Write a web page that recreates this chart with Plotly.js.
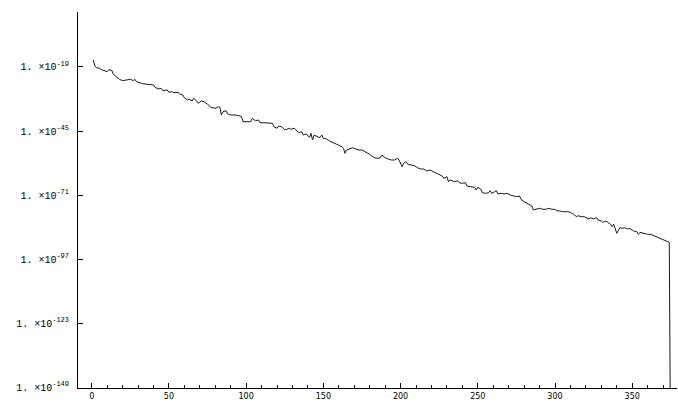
<!DOCTYPE html>
<html>
<head>
<meta charset="utf-8">
<script src="https://cdn.plot.ly/plotly-3.0.1.min.js"></script>
<style>html,body{margin:0;padding:0;background:#fff}#chart{width:678px;height:407px}</style>
</head>
<body>
<div id="chart"></div>
<script>
// iteration index
const iterX = [1,2,3,5,7,9,10,11,13,14,16,18,20,23,25,27,28,29,31,33,36,38,40,41,43,45,46,49,50,52,53,56,57,59,60,62,63,65,66,68,69,71,73,
74,75,77,80,82,83,84,85,87,88,90,93,96,97,98,101,103,104,106,108,109,111,114,117,118,120,121,123,125,126,128,129,131,132,134,136,137,139,141,142,143,144,145,147,148,149,
150,152,154,156,158,160,162,163,164,165,167,169,171,173,175,178,180,181,183,185,187,188,190,192,194,196,198,199,201,202,203,205,207,209,211,213,215,217,219,221,223,225,
227,228,230,231,232,235,237,238,240,242,243,245,248,249,250,252,253,255,257,258,259,261,262,263,265,267,269,271,273,275,277,278,280,281,283,285,286,288,290,292,294,296,298,300,301,
303,305,308,310,312,314,315,317,319,320,322,323,325,327,328,330,331,333,335,336,337,338,340,341,342,344,345,347,348,350,351,353,354,355,357,360,362,364,366,368,370,372,374,375,376];
// log10 of the residual at each iteration
const log10Residual = [-16.16,-18.47,-19.28,-19.53,-20.22,-20.63,-20.91,-20.10,-20.34,-21.97,-22.94,-24.00,-24.57,-24.40,-24.00,-24.57,-24.00,-24.97,-25.38,-25.78,-26.03,-26.03,-26.31,-27.25,-27.94,-27.65,-28.63,-28.34,-29.28,-29.03,-29.44,-29.28,-29.97,-30.38,-31.47,-32.41,-32.00,-32.81,-31.72,-32.81,-33.75,-32.81,-33.10,
-33.75,-34.03,-35.37,-35.78,-35.13,-35.37,-38.50,-37.16,-36.75,-38.09,-38.50,-38.50,-38.91,-39.19,-41.22,-41.22,-41.22,-39.84,-40.82,-40.53,-41.63,-41.63,-41.63,-41.87,-43.25,-43.90,-42.97,-43.25,-44.59,-44.31,-43.90,-44.31,-43.90,-44.31,-45.69,-45.28,-46.63,-46.22,-47.56,-45.93,-48.66,-46.63,-47.03,-47.56,-47.56,-46.63,
-47.97,-48.25,-49.06,-49.59,-50.40,-50.97,-51.38,-52.03,-54.06,-52.72,-52.31,-51.78,-52.31,-52.72,-52.72,-53.65,-54.47,-55.03,-55.85,-56.09,-55.85,-54.75,-55.85,-56.38,-56.78,-56.78,-56.09,-56.78,-59.50,-58.12,-57.47,-58.53,-58.81,-59.10,-59.91,-60.44,-60.44,-61.25,-60.84,-61.53,-62.18,-62.88,
-63.28,-64.22,-63.57,-65.60,-64.91,-65.60,-65.19,-66.00,-66.25,-66.00,-67.34,-67.63,-67.87,-68.97,-67.87,-68.68,-70.07,-70.31,-70.07,-69.25,-70.31,-69.66,-69.25,-70.59,-70.31,-70.59,-70.31,-71.00,-71.41,-71.69,-71.41,-72.75,-73.72,-74.13,-74.66,-75.47,-77.09,-76.81,-76.40,-76.81,-76.81,-76.40,-76.81,-76.81,-77.38,
-77.50,-77.78,-77.78,-78.03,-78.84,-79.82,-79.41,-79.82,-79.82,-80.22,-80.75,-80.22,-80.75,-80.22,-81.16,-81.56,-82.09,-81.56,-82.50,-82.90,-83.88,-82.90,-86.56,-85.22,-84.28,-84.53,-84.28,-84.81,-84.53,-85.22,-85.63,-85.91,-86.97,-86.16,-86.56,-86.97,-86.97,-87.53,-88.34,-88.88,-89.28,-89.69,-90.22,-119.75,-300];
// axis ticks
const xTickVals = [0,50,100,150,200,250,300,350];
const yTickExponents = [-19,-45,-71,-97,-123,-149];

const yVals = log10Residual.map(e => Math.pow(10, e));
const yTickVals = yTickExponents.map(e => Math.pow(10, e));
const yTickText = yTickExponents.map(e => '1.&nbsp;×10<sup>' + e + '</sup>');

Plotly.newPlot('chart', [{
  x: iterX, y: yVals, type: 'scatter', mode: 'lines',
  line: {color: '#1a1a1a', width: 1}, hoverinfo: 'skip'
}], {
  width: 678, height: 407,
  margin: {l: 78, r: 1, t: 12, b: 19, pad: 0},
  paper_bgcolor: '#fff', plot_bgcolor: '#fff',
  showlegend: false,
  xaxis: {
    range: [-8.87, 379], showgrid: false, zeroline: false,
    showline: true, linecolor: '#000', linewidth: 1,
    ticks: 'inside', ticklen: 5, tickcolor: '#000', tickwidth: 1,
    tickvals: xTickVals, ticktext: xTickVals.map(String),
    tickfont: {family: 'DejaVu Sans', size: 8, color: '#000'},
    minor: {dtick: 10, tick0: 0, ticks: 'inside', ticklen: 3, tickcolor: '#000', showgrid: false}
  },
  yaxis: {
    type: 'log', range: [-149.4, 3.34], showgrid: false, zeroline: false,
    showline: true, linecolor: '#000', linewidth: 1,
    ticks: 'inside', ticklen: 5, tickcolor: '#000', tickwidth: 1,
    tickvals: yTickVals, ticktext: yTickText,
    tickfont: {family: 'Liberation Mono', size: 10, color: '#000'},
    ticklabelstandoff: 6
  }
}, {displayModeBar: false, staticPlot: true});
</script>
</body>
</html>
